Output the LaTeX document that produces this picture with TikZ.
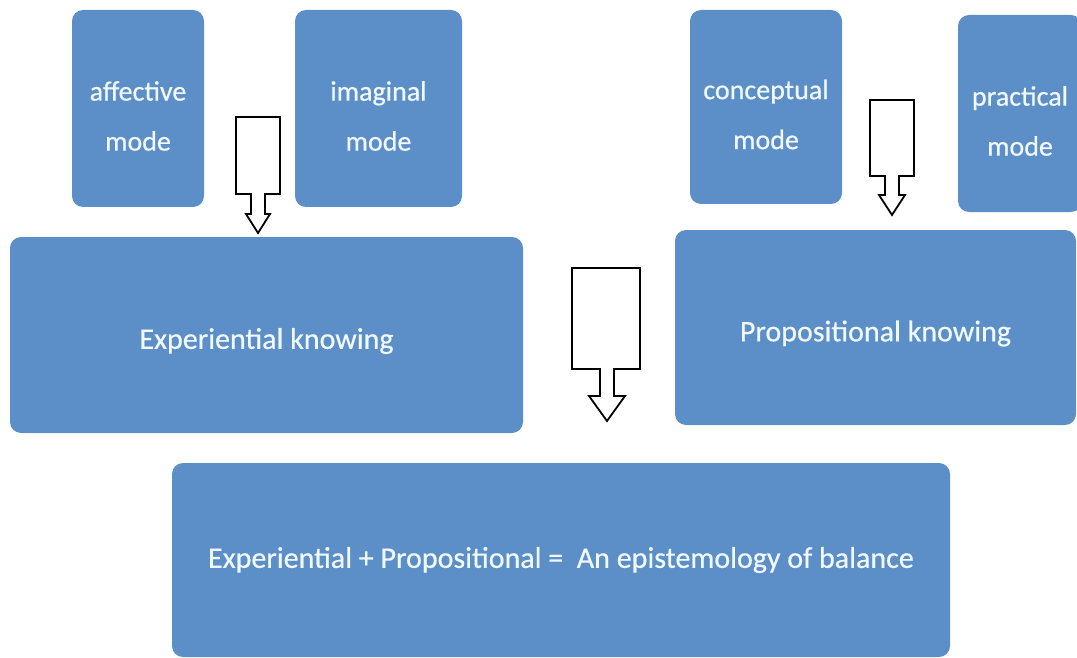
\documentclass[tikz,border=0pt]{standalone}
\usepackage{fontspec}
\setmainfont{Carlito}
\newfontface\labelface{Carlito}[FakeBold=0.5]
\definecolor{boxblue}{RGB}{92,143,199}
\definecolor{boxtext}{RGB}{242,249,252}
\begin{document}
\begin{tikzpicture}[x=1pt,y=-1pt,
  box/.style={draw=none, fill=boxblue, rounded corners=11pt, inner sep=0pt},
  lbl/.style={text=boxtext, align=center, inner sep=0pt},
  modetext/.style={lbl, font=\labelface\fontsize{28}{50}\selectfont, yshift=-7.5pt},
  bigtext/.style={lbl, font=\labelface\fontsize{30}{36}\selectfont, yshift=-6pt},
  baltext/.style={lbl, font=\labelface\fontsize{30}{36}\selectfont},
  blockarrow/.style={draw=black, fill=white, line width=1.8pt, line join=miter}]
\useasboundingbox (0,0) rectangle (1077,658);

% the four modes
\node[box, minimum width=132pt, minimum height=197pt,
      label={[modetext]center:{affective\\mode}}] (aff) at (138,108.5) {};
\node[box, minimum width=167pt, minimum height=197pt,
      label={[modetext]center:{imaginal\\mode}}] (ima) at (378.5,108.5) {};
\node[box, minimum width=152pt, minimum height=194pt,
      label={[modetext]center:{conceptual\\mode}}] (con) at (766,107) {};
\node[box, minimum width=124pt, minimum height=197pt,
      label={[modetext]center:{practical\\mode}}] (pra) at (1020,113.5) {};

% the two kinds of knowing
\node[box, minimum width=513pt, minimum height=196pt,
      label={[bigtext]center:{Experiential knowing}}] (exp) at (266.5,335) {};
\node[box, minimum width=401pt, minimum height=195pt,
      label={[bigtext]center:{Propositional knowing}}] (pro) at (875.5,327.5) {};

% the synthesis
\node[box, minimum width=778pt, minimum height=194pt,
      label={[baltext]center:{Experiential + Propositional =\ \ An epistemology of balance}}]
      (bal) at (561,560) {};

% hollow down-arrow callouts
\draw[blockarrow] (236,117) -- (280,117) -- (280,194) -- (265,194) -- (265,214)
  -- (270,214) -- (258,233) -- (246,214) -- (251,214) -- (251,194) -- (236,194) -- cycle;
\draw[blockarrow] (572,268) -- (640,268) -- (640,369) -- (614,369) -- (614,396)
  -- (625,396) -- (607,421) -- (589,396) -- (600,396) -- (600,369) -- (572,369) -- cycle;
\draw[blockarrow] (870,100) -- (914,100) -- (914,176) -- (899,176) -- (899,195)
  -- (905,195) -- (892,215) -- (879,195) -- (885,195) -- (885,176) -- (870,176) -- cycle;
\end{tikzpicture}
\end{document}
